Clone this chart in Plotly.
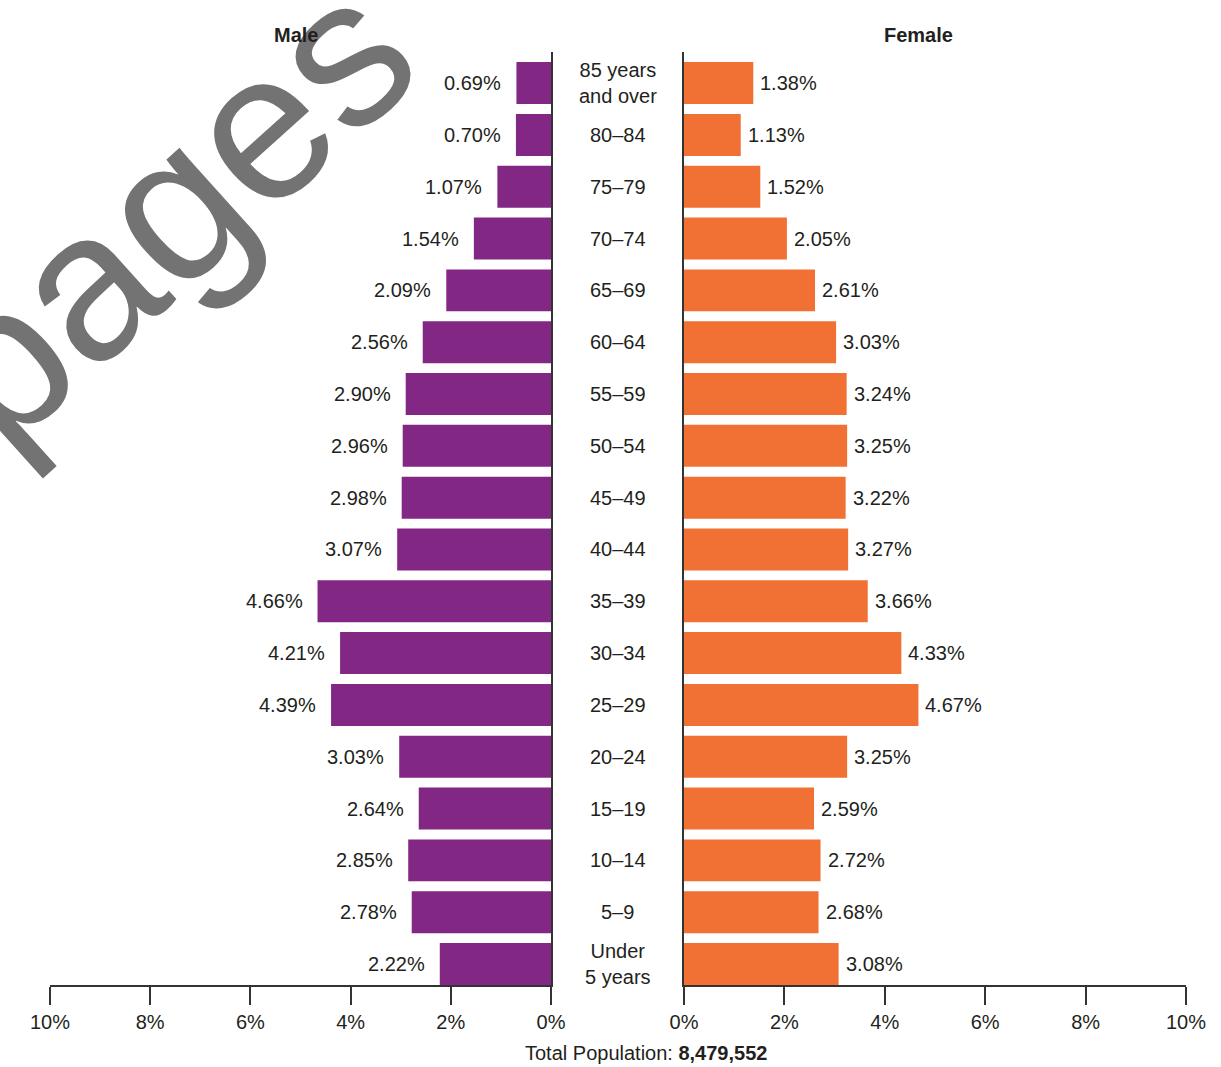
import plotly.graph_objects as go

# Age groups, youngest first (bottom of the pyramid)
age_groups = ["Under<br>5 years", "5–9", "10–14", "15–19", "20–24", "25–29", "30–34",
              "35–39", "40–44", "45–49", "50–54", "55–59", "60–64", "65–69",
              "70–74", "75–79", "80–84", "85 years<br>and over"]

male_pct = [2.22, 2.78, 2.85, 2.64, 3.03, 4.39, 4.21, 4.66, 3.07, 2.98,
            2.96, 2.90, 2.56, 2.09, 1.54, 1.07, 0.70, 0.69]
female_pct = [3.08, 2.68, 2.72, 2.59, 3.25, 4.67, 4.33, 3.66, 3.27, 3.22,
              3.25, 3.24, 3.03, 2.61, 2.05, 1.52, 1.13, 1.38]

tick_vals = [0, 2, 4, 6, 8, 10]
tick_text = ["0%", "2%", "4%", "6%", "8%", "10%"]
total_population = "8,479,552"

W, H = 1221, 1067
FONT = "Liberation Sans, Arial, Helvetica, sans-serif"
TEXT = "#231f20"
AXIS = "#333333"
PURPLE = "#822784"
ORANGE = "#f17033"


def px_x(p):
    return p / W


def px_y(p):
    return 1 - p / H


pos = list(range(len(age_groups)))

fig = go.Figure()
fig.add_trace(go.Bar(x=male_pct, y=pos, orientation="h", width=0.81,
                     marker=dict(color=PURPLE, line=dict(width=0)),
                     xaxis="x", yaxis="y", hoverinfo="skip"))
fig.add_trace(go.Bar(x=female_pct, y=pos, orientation="h", width=0.81,
                     marker=dict(color=ORANGE, line=dict(width=0)),
                     xaxis="x2", yaxis="y2", hoverinfo="skip"))

annotations = []

# Watermark behind everything
annotations.append(dict(text="pages", x=px_x(167), y=px_y(210), xref="paper", yref="paper",
                        xanchor="center", yanchor="middle", showarrow=False, textangle=-42,
                        font=dict(family=FONT, size=210, color="#737373")))

# Value labels
for i, v in enumerate(male_pct):
    annotations.append(dict(text=f"{v:.2f}%", x=v, y=i, xref="x", yref="y",
                            xanchor="right", yanchor="middle", xshift=-13, showarrow=False,
                            font=dict(family=FONT, size=20, color=TEXT)))
for i, v in enumerate(female_pct):
    annotations.append(dict(text=f"{v:.2f}%", x=v, y=i, xref="x2", yref="y2",
                            xanchor="left", yanchor="middle", xshift=5, showarrow=False,
                            font=dict(family=FONT, size=20, color=TEXT)))

# Age group labels between the two halves
for i, g in enumerate(age_groups):
    annotations.append(dict(text=g, x=px_x(617.5), y=i, xref="paper", yref="y",
                            xanchor="center", yanchor="middle", showarrow=False,
                            font=dict(family=FONT, size=20, color=TEXT)))

# Panel titles and footer
annotations.append(dict(text="<b>Male</b>", x=px_x(296), y=px_y(35), xref="paper", yref="paper",
                        xanchor="center", yanchor="middle", showarrow=False,
                        font=dict(family=FONT, size=20, color=TEXT)))
annotations.append(dict(text="<b>Female</b>", x=px_x(919), y=px_y(35), xref="paper", yref="paper",
                        xanchor="center", yanchor="middle", showarrow=False,
                        font=dict(family=FONT, size=20, color=TEXT)))
annotations.append(dict(text=f"Total Population: <b>{total_population}</b>", x=px_x(646), y=px_y(1053),
                        xref="paper", yref="paper", xanchor="center", yanchor="middle",
                        showarrow=False, font=dict(family=FONT, size=20, color=TEXT)))

xaxis_common = dict(tickvals=tick_vals, ticktext=tick_text, showgrid=False, zeroline=False,
                    showline=True, linecolor=AXIS, linewidth=1.5, ticks="outside", ticklen=18,
                    tickwidth=1.5, tickcolor=AXIS, automargin=False,
                    tickfont=dict(family=FONT, size=20, color=TEXT), fixedrange=True)
yaxis_common = dict(range=[-0.405, 17.6], domain=[px_y(985), px_y(52)], showgrid=False,
                    zeroline=False, showticklabels=False, automargin=False,
                    showline=True, linecolor=AXIS, linewidth=1.5, ticks="", fixedrange=True)

fig.update_layout(
    width=W, height=H,
    margin=dict(l=0, r=0, t=0, b=0),
    paper_bgcolor="white", plot_bgcolor="white",
    showlegend=False,
    font=dict(family=FONT, size=20, color=TEXT),
    xaxis=dict(domain=[px_x(50), px_x(551)], range=[10, 0], anchor="y", **xaxis_common),
    xaxis2=dict(domain=[px_x(684), px_x(1186)], range=[0, 10], anchor="y2", **xaxis_common),
    yaxis=dict(anchor="x", side="right", **yaxis_common),
    yaxis2=dict(anchor="x2", side="left", **yaxis_common),
    annotations=annotations,
)

fig.write_html("out.html")
